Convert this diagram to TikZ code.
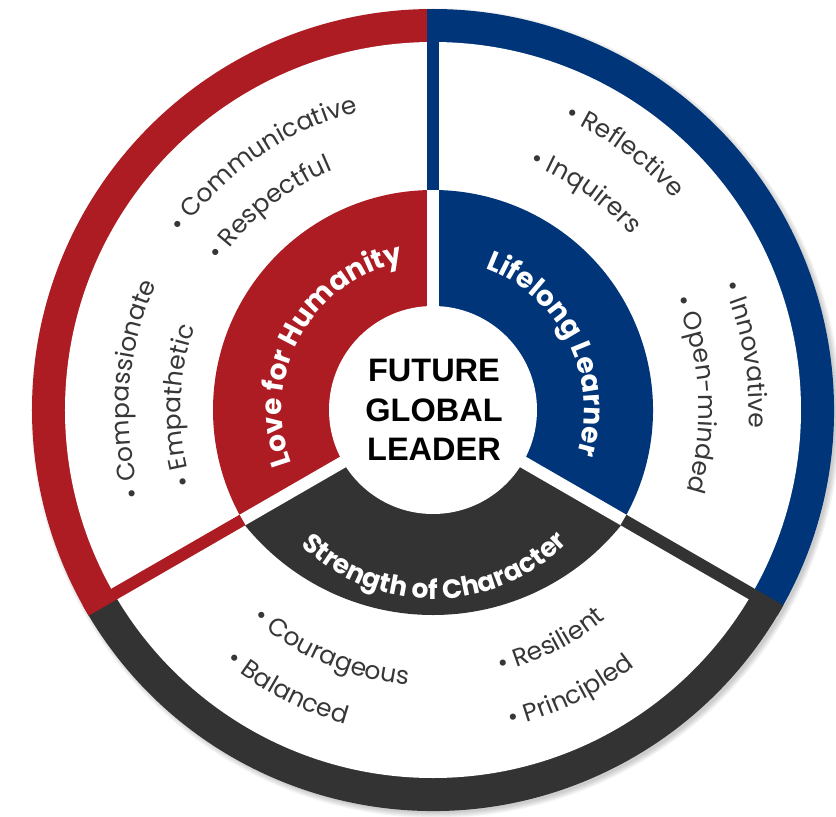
\documentclass[tikz,border=0pt]{standalone}
\usepackage{fontspec}
\setmainfont{Poppins}
\newfontfamily\headfont{Liberation Sans}
\usetikzlibrary{decorations.text}

\definecolor{loveRed}{RGB}{173,27,35}
\definecolor{lifeBlue}{RGB}{0,53,122}
\definecolor{charDark}{RGB}{51,51,51}
\definecolor{itemGray}{RGB}{55,55,55}

\newcommand\sectorfont{\bfseries\fontsize{28pt}{28pt}\selectfont\color{white}}
\newcommand\charfont{\bfseries\fontsize{26.5pt}{26.5pt}\selectfont\color{white}}
\newcommand\itemfont{\fontsize{25pt}{25pt}\selectfont\color{itemGray}}

\tikzset{
  sectortext/.style={decorate,decoration={text along path,text align=center,text={|\sectorfont|#1}}},
  chartext/.style={decorate,decoration={text along path,text align=center,text={|\charfont|#1}}},
  itemtext/.style={decorate,decoration={text along path,text align=center,text={|\itemfont|• #1}}}
}

\begin{document}
\begin{tikzpicture}[scale=0.0351459804]
  \useasboundingbox (-433,-406) rectangle (403,410);
  % soft shadow
  \foreach \k in {1,...,6}
    \fill[black,opacity=0.035] (3,-3) circle[radius=399+\k];
  % outer ring
  \fill[loveRed] (0,0) -- (90:401) arc[start angle=90,end angle=210,radius=401] -- cycle;
  \fill[lifeBlue] (0,0) -- (-30:401) arc[start angle=-30,end angle=90,radius=401] -- cycle;
  \fill[charDark] (0,0) -- (210:401) arc[start angle=210,end angle=330,radius=401] -- cycle;
  \fill[white] (0,0) circle[radius=368];
  % inner sectors
  \fill[loveRed] (0,0) -- (90:220) arc[start angle=90,end angle=210,radius=220] -- cycle;
  \fill[lifeBlue] (0,0) -- (-30:220) arc[start angle=-30,end angle=90,radius=220] -- cycle;
  \begin{scope}
    \clip (0,0) -- (210:300) arc[start angle=210,end angle=330,radius=300] -- cycle;
    \fill[charDark] (0,37) circle[radius=242];
  \end{scope}
  % gaps and strips
  \foreach \a/\c in {90/lifeBlue,210/loveRed,330/charDark}{
    \fill[white,rotate=\a] (0,-6) rectangle (221,6);
    \begin{scope}
      \clip (0,0) circle[radius=401];
      \fill[\c,rotate=\a] (220,-6) rectangle (410,6);
    \end{scope}
  }
  \fill[white] (0,0) circle[radius=104];
  \node[font=\headfont\bfseries\fontsize{32.5pt}{39.5pt}\selectfont,align=center] (core) at (1,0) {FUTURE\\GLOBAL\\LEADER};

  % sector labels
  \path[sectortext={Love for Humanity}] (211:151) arc[start angle=211,end angle=91,radius=151];
  \path[sectortext={Lifelong Learner}] (86.5:151) arc[start angle=86.5,end angle=-33.5,radius=151];
  \path[chartext={Strength of Character}] (210.5:189) arc[start angle=210.5,end angle=330.5,radius=189];

  % red items
  \path[itemtext={Communicative}] (164.5:307) arc[start angle=164.5,end angle=84.5,radius=307];
  \path[itemtext={Respectful}] (169:260) arc[start angle=169,end angle=89,radius=260];
  \path[itemtext={Compassionate}] (216:304) arc[start angle=216,end angle=136,radius=304];
  \path[itemtext={Empathetic}] (219:252) arc[start angle=219,end angle=139,radius=252];
  % blue items
  \path[itemtext={Reflective}] (93.5:320) arc[start angle=93.5,end angle=13.5,radius=320];
  \path[itemtext={Inquirers}] (95:264) arc[start angle=95,end angle=15,radius=264];
  \path[itemtext={Innovative}] (50:316) arc[start angle=50,end angle=-30,radius=316];
  \path[itemtext={Open-minded}] (43.5:266) arc[start angle=43.5,end angle=-36.5,radius=266];
  % dark items
  \path[itemtext={Courageous}] (207:276) arc[start angle=207,end angle=287,radius=276];
  \path[itemtext={Balanced}] (202.5:326) arc[start angle=202.5,end angle=282.5,radius=326];
  \path[itemtext={Resilient}] (257:271) arc[start angle=257,end angle=337,radius=271];
  \path[itemtext={Principled}] (256:326) arc[start angle=256,end angle=336,radius=326];
\end{tikzpicture}
\end{document}
